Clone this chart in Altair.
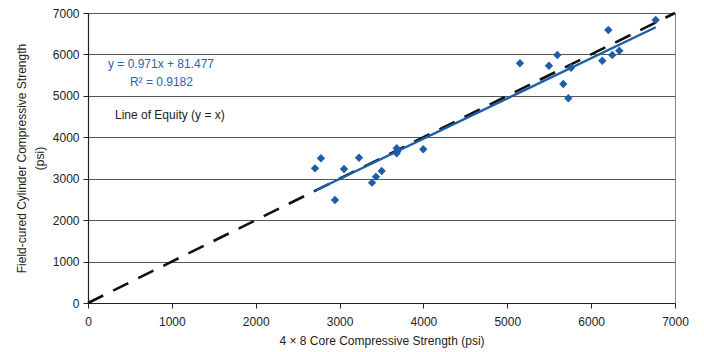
import altair as alt
import pandas as pd

core = [2707, 2778, 3053, 3232, 2945, 3387, 3434, 3502, 3681, 3681, 3690, 3998,
        5151, 5497, 5597, 5668, 5728, 5760, 6133, 6205, 6252, 6336, 6770]
field = [3251, 3493, 3234, 3507, 2486, 2904, 3049, 3186, 3734, 3613, 3660, 3710,
         5786, 5728, 5986, 5286, 4941, 5679, 5848, 6590, 5986, 6090, 6831]

equity_x = [0, 7000]
slope, intercept = 0.971, 81.477
trend_x = [min(core), max(core)]

pts = pd.DataFrame({"x": core, "y": field})
eq = pd.DataFrame({"x": equity_x, "y": equity_x})
tr = pd.DataFrame({"x": trend_x, "y": [slope * v + intercept for v in trend_x]})

labels = pd.DataFrame({
    "x": [238, 500, 322],
    "y": [5770, 5330, 4540],
    "t": ["y = 0.971x + 81.477", "R² = 0.9182", "Line of Equity (y  = x)"],
    "c": ["#2a63b0", "#2a63b0", "#222222"],
})

blue = "#1d5ea8"
xs = alt.X("x:Q", scale=alt.Scale(domain=[0, 7000], nice=False),
           axis=alt.Axis(values=list(range(0, 7001, 1000)), grid=False, format="d",
                         labelFlush=False, labelOverlap=False,
                         title="4 × 8 Core Compressive Strength (psi)",
                         titlePadding=8, labelPadding=8, tickSize=5))
ys = alt.Y("y:Q", scale=alt.Scale(domain=[0, 7000], nice=False),
           axis=alt.Axis(values=list(range(0, 7001, 1000)), grid=True, format="d",
                         labelFlush=False, labelOverlap=False,
                         title=["Field-cured Cylinder Compressive Strength", "(psi)"],
                         titleLineHeight=18,
                         titlePadding=6, labelPadding=4, tickSize=5))

base_font = "Liberation Sans"

equity = alt.Chart(eq).mark_line(color="#111111", strokeWidth=2.6,
                                 strokeDash=[17, 11]).encode(x=xs, y=ys)
trend = alt.Chart(tr).mark_line(color=blue, strokeWidth=2.4).encode(x="x:Q", y="y:Q")
points = alt.Chart(pts).mark_point(shape="diamond", filled=True, size=70,
                                   color=blue, opacity=1).encode(x="x:Q", y="y:Q")
text = alt.Chart(labels).mark_text(align="left", baseline="middle", fontSize=12,
                                   font=base_font).encode(
    x="x:Q", y="y:Q", text="t:N", color=alt.Color("c:N", scale=None))

chart = alt.layer(equity, trend, points, text).properties(
    width=587, height=290,
    autosize=alt.AutoSizeParams(type="none"),
    padding={"left": 80, "top": 5, "right": 21, "bottom": 52},
).configure_view(stroke="#888888", strokeWidth=1).configure_axis(
    labelFont=base_font, titleFont=base_font, labelFontSize=12, titleFontSize=12,
    labelColor="#222222", titleColor="#222222", titleFontWeight="normal",
    domainColor="#222222", tickColor="#222222", gridColor="#555555",
    gridWidth=1, domainWidth=1.2,
)

chart.save("out.html", embed_options={"renderer": "svg", "actions": False})
